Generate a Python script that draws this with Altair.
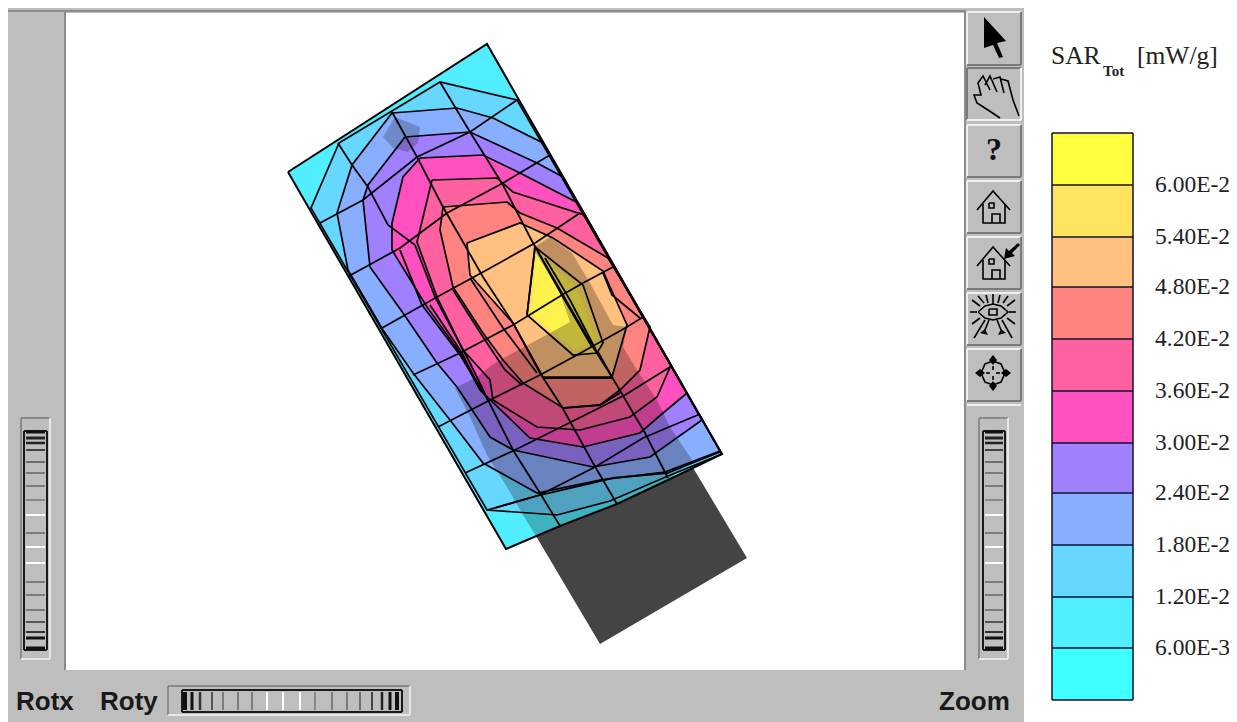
import altair as alt
import pandas as pd

# ---------- scale window (image pixels; the page margin is 8 px) ----------
X0, X1, Y0, Y1 = 8, 1229, 8, 722

# ---------- legend ----------
legend_edges = [133, 185, 237, 287, 339, 391, 443, 493, 545, 597, 648, 700]
legend_colors = ["#FFFF40", "#FFE25E", "#FFC080", "#FF8480", "#FF60A0", "#FF50C0",
                 "#A080FF", "#88AEFF", "#66D8FF", "#50EEFF", "#40FFFF"]
legend_labels = ["6.00E-2", "5.40E-2", "4.80E-2", "4.20E-2", "3.60E-2", "3.00E-2",
                 "2.40E-2", "1.80E-2", "1.20E-2", "6.00E-3"]

# ---------- the SAR surface ----------
device_body = [(533, 531), (692, 466), (747, 558), (600, 644)]
surface_outline = [(288, 172), (487, 44), (722, 454), (670, 479), (617, 504), (560, 526), (506, 549)]

band_0 = surface_outline
band_1 = [(339, 143), (440, 82), (517, 100), (722, 454), (668, 476), (610, 501), (557, 515),
          (487, 510), (311, 208)]
band_2 = [(392, 113), (457, 108), (493, 118), (543, 143), (720, 451), (665, 472), (600, 480),
          (537, 493), (483, 463), (450, 420), (413, 373), (383, 330), (348, 270), (337, 213), (352, 165)]
band_3 = [(405, 137), (470, 132), (537, 163), (563, 177), (702, 420), (650, 457), (593, 467),
          (513, 450), (490, 437), (457, 387), (437, 363), (403, 313), (370, 267), (363, 200), (368, 185)]
band_4 = [(420, 158), (483, 155), (520, 173), (578, 203), (687, 393), (663, 413), (640, 433),
          (583, 447), (530, 438), (480, 390), (460, 353), (427, 307), (392, 250), (392, 223), (403, 177)]
band_5 = [(432, 180), (497, 178), (513, 192), (584, 215), (671, 365), (657, 397), (630, 417),
          (580, 430), (537, 427), (493, 400), (490, 380), (463, 350), (437, 297), (417, 242)]
band_6 = [(443, 207), (507, 202), (520, 213), (557, 228), (608, 258), (650, 327), (640, 370),
          (620, 390), (600, 405), (563, 408), (523, 383), (503, 360), (483, 333), (453, 287), (440, 230)]
band_7 = [(467, 243), (520, 223), (553, 238), (603, 271), (627, 325), (612, 377), (543, 377),
          (513, 323), (470, 275)]
band_8 = [(535, 247), (583, 285), (603, 343), (597, 353), (573, 355), (527, 315)]
band_9 = [(537, 254), (577, 288), (596, 340), (575, 350), (532, 314)]

# darker, shadowed stretches of the surface
shadow_main = [(550, 237), (572, 253), (590, 283), (613, 325), (627, 327), (623, 347), (637, 370),
               (657, 400), (670, 427), (692, 460), (668, 480), (617, 504), (560, 526), (536, 536),
               (523, 515), (507, 487), (487, 455), (470, 417), (455, 388), (477, 377), (492, 365),
               (513, 353), (550, 333), (570, 322), (560, 293), (533, 248)]
shadow_spot = [(383, 137), (395, 117), (420, 127), (418, 143), (408, 152), (393, 148)]

# mesh lines crossing the surface
mesh_cross = [
    [(320, 223), (363, 200), (417, 157), (470, 132), (517, 100)],
    [(349, 276), (400, 248), (447, 213), (503, 183), (550, 155)],
    [(382, 328), (437, 297), (483, 272), (535, 243), (580, 213)],
    [(413, 375), (460, 353), (513, 325), (562, 295), (583, 283), (613, 267)],
    [(438, 427), (490, 400), (540, 375), (577, 355), (627, 327), (643, 317)],
    [(465, 473), (515, 450), (565, 425), (625, 395), (670, 367)],
    [(487, 510), (540, 495), (595, 467), (643, 438), (700, 414)],
    [(495, 508), (540, 495), (613, 478), (667, 473), (720, 452)],
    [(543, 378), (612, 378)],
    [(563, 408), (600, 405), (620, 393)],
]
mesh_long = [
    [(338, 143), (352, 165), (368, 187), (388, 225), (415, 245), (435, 297), (470, 363), (488, 400), (513, 450),
     (540, 493), (560, 526)],
    [(392, 112), (417, 157), (443, 207), (463, 242), (483, 277), (513, 323), (540, 373), (562, 407),
     (593, 463), (617, 504)],
    [(440, 82), (470, 132), (503, 185), (533, 243), (593, 347), (612, 377), (645, 433), (668, 478)],
    [(535, 247), (527, 315)],
    [(538, 252), (563, 297), (592, 347)],
    [(545, 258), (570, 300), (597, 352)],
    [(400, 250), (422, 305), (460, 355), (488, 400)],
    [(430, 305), (462, 353), (478, 385)],
    [(453, 290), (483, 337), (505, 370), (522, 385)],
    [(470, 278), (503, 328), (537, 373)],
    [(598, 352), (612, 377)],
    [(603, 273), (612, 295), (640, 318)],
]

# ---------- window furniture ----------
panels = [
    {"x0": 7, "x1": 1024, "y0": 8, "y1": 722, "c": "#BEBEBE"},
    {"x0": 66, "x1": 964, "y0": 13, "y1": 670, "c": "#FFFFFF"},
    {"x0": 7, "x1": 966, "y0": 10, "y1": 12, "c": "#8C8C8C"},
    {"x0": 64, "x1": 66, "y0": 12, "y1": 670, "c": "#8C8C8C"},
    {"x0": 964, "x1": 966, "y0": 12, "y1": 670, "c": "#8C8C8C"},
]
button_tops = [12, 68, 125, 181, 237, 293, 349]
button_bottoms = [65, 120, 177, 233, 289, 345, 401]
button_pressed = [False, True, False, False, False, False, False]
button_left, button_right = 967, 1021

slider_ticks = [432, 438, 443, 450, 462, 473, 486, 500, 515, 533, 547, 563, 582, 595, 610, 622, 632, 638, 648]
slider_tones = ["#111111", "#222222", "#222222", "#444444", "#555555", "#666666", "#666666", "#777777",
                "#FFFFFF", "#666666", "#FFFFFF", "#FFFFFF", "#666666", "#666666", "#666666", "#555555",
                "#333333", "#111111", "#111111"]
slider_widths = [3, 3, 2.5, 2, 1.5, 1.5, 1.5, 1.5, 2, 1.5, 2, 2, 1.5, 1.5, 1.5, 2, 2, 3, 3]
roty_ticks = [185, 192, 200, 212, 223, 238, 252, 267, 283, 300, 315, 332, 347, 360, 372, 382, 390, 397]
roty_tones = ["#111111", "#111111", "#333333", "#555555", "#666666", "#666666", "#666666", "#FFFFFF",
              "#FFFFFF", "#FFFFFF", "#777777", "#666666", "#666666", "#555555", "#444444", "#222222",
              "#111111", "#111111"]
roty_widths = [4, 3, 2.5, 2, 1.5, 1.5, 1.5, 2, 2, 2, 1.5, 1.5, 1.5, 1.5, 2, 2.5, 3, 4]

icon_fill = [
    [(984, 17), (1006, 41), (997, 43), (1003, 57), (999, 58), (993, 45), (984, 48)],
    [(1018, 243), (1020, 245), (1012, 253), (1015, 256), (1004, 259), (1006, 248), (1009, 251)],
    [(993, 355), (997, 360), (993, 365), (989, 360)],
    [(993, 381), (997, 386), (993, 391), (989, 386)],
    [(975, 373), (980, 369), (985, 373), (980, 377)],
    [(1001, 373), (1006, 369), (1011, 373), (1006, 377)],
    [(980, 333), (985, 329), (988, 335)],
    [(1006, 333), (1001, 329), (998, 335)],
]
icon_lines = [
    # hand
    [(1000, 118), (988, 110), (977, 103), (974, 95), (981, 95), (978, 83), (983, 76), (990, 90)],
    [(985, 85), (990, 76), (997, 92)], [(993, 79), (1000, 77), (1004, 93)],
    [(1001, 79), (1008, 81), (1013, 100), (1019, 116)],
    # house
    [(977, 210), (993, 191), (1010, 210)], [(983, 204), (983, 223), (1005, 223), (1005, 204)],
    [(992, 223), (992, 214), (1000, 214), (1000, 223)], [(989, 203), (994, 203), (994, 208), (989, 208), (989, 203)],
    # house with arrow
    [(977, 266), (993, 247), (1010, 266)], [(983, 260), (983, 279), (1005, 279), (1005, 260)],
    [(992, 279), (992, 270), (1000, 270), (1000, 279)], [(989, 259), (994, 259), (994, 264), (989, 264), (989, 259)],
    # eye
    [(978, 312), (985, 306), (993, 304), (1001, 306), (1008, 312), (1001, 318), (993, 320), (985, 318), (978, 312)],
    [(989, 309), (997, 309), (997, 315), (989, 315), (989, 309)],
    [(972, 300), (980, 306)], [(978, 296), (984, 303)], [(986, 295), (988, 303)], [(993, 294), (993, 304)],
    [(1000, 295), (998, 303)], [(1008, 296), (1003, 303)], [(1015, 300), (1007, 306)], [(970, 312), (977, 312)],
    [(1016, 312), (1009, 312)], [(972, 324), (980, 318)], [(974, 338), (985, 320)], [(985, 330), (989, 320)],
    [(1001, 330), (997, 320)], [(1012, 338), (1002, 320)], [(1015, 324), (1007, 318)],
    # crosshair
    [(993, 361), (1001, 364), (1005, 373), (1001, 382), (993, 385), (985, 382), (981, 373), (985, 364), (993, 361)],
    [(993, 366), (993, 370)], [(993, 376), (993, 380)], [(986, 373), (990, 373)], [(996, 373), (1000, 373)],
]

window_labels = [
    {"x": 16, "y": 702, "t": "Rotx"},
    {"x": 100, "y": 702, "t": "Roty"},
    {"x": 939, "y": 702, "t": "Zoom"},
]

# ---------- chart plumbing ----------
xs = alt.Scale(domain=[X0, X1], range=[0, X1 - X0], nice=False, zero=False)
ys = alt.Scale(domain=[Y0, Y1], range=[0, Y1 - Y0], nice=False, zero=False)


def rects(rows, **kw):
    return alt.Chart(pd.DataFrame(rows)).mark_rect(**kw).encode(
        x=alt.X("x0:Q", scale=xs, axis=None), x2="x1:Q",
        y=alt.Y("y0:Q", scale=ys, axis=None), y2="y1:Q",
        fill=alt.Fill("c:N", scale=None))


def rules(rows):
    return alt.Chart(pd.DataFrame(rows)).mark_rule().encode(
        x=alt.X("x0:Q", scale=xs, axis=None), x2="x1:Q",
        y=alt.Y("y0:Q", scale=ys, axis=None), y2="y1:Q",
        color=alt.Color("c:N", scale=None),
        strokeWidth=alt.StrokeWidth("w:Q", scale=None))


def labels(rows, **kw):
    return alt.Chart(pd.DataFrame(rows)).mark_text(align="left", baseline="middle", **kw).encode(
        x=alt.X("x:Q", scale=xs, axis=None),
        y=alt.Y("y:Q", scale=ys, axis=None),
        text="t:N")


def poly(pts, fill, stroke="transparent", sw=0.0, op=1.0):
    ring = [list(p) for p in pts] + [list(pts[0])]
    return {"type": "Feature", "geometry": {"type": "Polygon", "coordinates": [ring]},
            "properties": {"fill": fill, "stroke": stroke, "sw": sw, "op": op}}


def line(pts, stroke="#000000", sw=1.8):
    return {"type": "Feature", "geometry": {"type": "LineString", "coordinates": [list(p) for p in pts]},
            "properties": {"fill": "transparent", "stroke": stroke, "sw": sw, "op": 1.0}}


def geo(features, **kw):
    return alt.Chart(alt.InlineData(values=features, format=alt.DataFormat(type="json"))).mark_geoshape(**kw).encode(
        fill=alt.Fill("properties.fill:N", scale=None),
        stroke=alt.Stroke("properties.stroke:N", scale=None),
        strokeWidth=alt.StrokeWidth("properties.sw:Q", scale=None),
        fillOpacity=alt.FillOpacity("properties.op:Q", scale=None),
    ).project(type="identity", scale=1, translate=[-X0, -Y0])


bands = [band_0, band_1, band_2, band_3, band_4, band_5, band_6, band_7, band_8, band_9]
band_colors = ["#50EEFF", "#66D8FF", "#88AEFF", "#A080FF", "#FF50C0", "#FF60A0", "#FF8480", "#FFC080",
               "#FFE25E", "#FFF24C"]

base_features = [poly(device_body, "#444444")]
base_features += [poly(b, c) for b, c in zip(bands, band_colors)]
shadow_features = [poly(shadow_main, "#100808", op=0.26), poly(shadow_spot, "#100808", op=0.22)]
top_features = [line(b + [b[0]], sw=1.7) for b in bands[1:9]]
top_features += [line(m) for m in mesh_cross + mesh_long]
top_features += [line(surface_outline + [surface_outline[0]], sw=2.0)]
top_features += [poly(i, "#000000") for i in icon_fill]
top_features += [line(i, "#000000", 1.6) for i in icon_lines]

# buttons with bevels
button_rows, bevel = [], []
for top, bot, pressed in zip(button_tops, button_bottoms, button_pressed):
    button_rows.append({"x0": button_left, "x1": button_right, "y0": top, "y1": bot, "c": "#BEBEBE"})
    a, b = ("#7A7A7A", "#EFEFEF") if pressed else ("#EFEFEF", "#7A7A7A")
    bevel += [
        {"x0": button_left, "x1": button_right, "y0": top, "y1": top, "c": a, "w": 2},
        {"x0": button_left, "x1": button_left, "y0": top, "y1": bot, "c": a, "w": 2},
        {"x0": button_left, "x1": button_right, "y0": bot, "y1": bot, "c": b, "w": 2},
        {"x0": button_right, "x1": button_right, "y0": top, "y1": bot, "c": b, "w": 2},
    ]
bevel += [{"x0": button_left, "x1": button_right, "y0": 405, "y1": 405, "c": "#EFEFEF", "w": 2}]


def frame(x0, x1, y0, y1):
    return [
        {"x0": x0, "x1": x1, "y0": y0, "y1": y0, "c": "#7A7A7A", "w": 1.5},
        {"x0": x0, "x1": x0, "y0": y0, "y1": y1, "c": "#7A7A7A", "w": 1.5},
        {"x0": x0, "x1": x1, "y0": y1, "y1": y1, "c": "#F4F4F4", "w": 1.5},
        {"x0": x1, "x1": x1, "y0": y0, "y1": y1, "c": "#F4F4F4", "w": 1.5},
    ]


def inner_frame(x0, x1, y0, y1):
    return [
        {"x0": x0, "x1": x1, "y0": y0, "y1": y0, "c": "#1A1A1A", "w": 2},
        {"x0": x0, "x1": x0, "y0": y0, "y1": y1, "c": "#1A1A1A", "w": 2},
        {"x0": x0, "x1": x1, "y0": y1, "y1": y1, "c": "#1A1A1A", "w": 2},
        {"x0": x1, "x1": x1, "y0": y0, "y1": y1, "c": "#1A1A1A", "w": 2},
    ]


slider_rules = frame(21, 50, 418, 659) + frame(979, 1008, 418, 659) + frame(168, 410, 686, 715)
slider_rules += inner_frame(24, 47, 431, 650) + inner_frame(983, 1005, 431, 650) + inner_frame(182, 402, 690, 712)
for y, c, w in zip(slider_ticks, slider_tones, slider_widths):
    slider_rules.append({"x0": 26, "x1": 45, "y0": y, "y1": y, "c": c, "w": w})
    slider_rules.append({"x0": 985, "x1": 1003, "y0": y, "y1": y, "c": c, "w": w})
for x, c, w in zip(roty_ticks, roty_tones, roty_widths):
    slider_rules.append({"x0": x, "x1": x, "y0": 692, "y1": 710, "c": c, "w": w})

# legend
legend_rows = [{"x0": 1052, "x1": 1133, "y0": legend_edges[i], "y1": legend_edges[i + 1], "c": legend_colors[i]}
               for i in range(len(legend_colors))]
legend_rules = [{"x0": 1052, "x1": 1133, "y0": e, "y1": e, "c": "#101030", "w": 1.5} for e in legend_edges]
legend_rules += [{"x0": x, "x1": x, "y0": legend_edges[0], "y1": legend_edges[-1], "c": "#101030", "w": 1.5}
                 for x in (1052, 1133)]
legend_text = [{"x": 1155, "y": e, "t": t} for e, t in zip(legend_edges[1:], legend_labels)]

chart = alt.layer(
    rects(panels),
    rects(button_rows),
    rules(bevel),
    rules(slider_rules),
    geo(base_features),
    geo(shadow_features),
    geo(top_features),
    labels(window_labels, font="Liberation Sans", fontSize=26, fontWeight="bold", color="#1A1A1A"),
    labels([{"x": 986, "y": 150, "t": "?"}], font="Liberation Serif", fontSize=32, fontWeight="bold", color="#111111"),
    rects(legend_rows),
    rules(legend_rules),
    labels(legend_text, font="Liberation Serif", fontSize=23.5, color="#222222"),
    labels([{"x": 1051, "y": 56, "t": "SAR"}, {"x": 1137, "y": 56, "t": "[mW/g]"}],
           font="Liberation Serif", fontSize=25.5, color="#222222"),
    labels([{"x": 1103, "y": 71, "t": "Tot"}], font="Liberation Serif", fontSize=15, fontWeight="bold", color="#222222"),
).properties(
    width=X1 - X0, height=Y1 - Y0, padding=0,
    autosize=alt.AutoSizeParams(type="none"), background="#FFFFFF",
).configure_view(stroke=None)

chart.save("out.html", embed_options={"renderer": "svg", "actions": False})
